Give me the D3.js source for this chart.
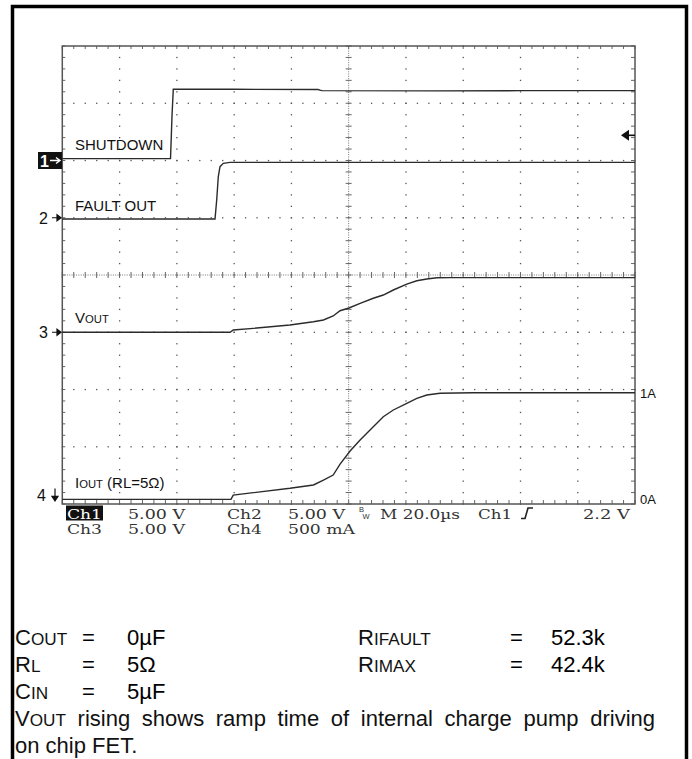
<!DOCTYPE html>
<html><head><meta charset="utf-8">
<script src="https://cdn.jsdelivr.net/npm/d3@7"></script>
<style>html,body{margin:0;padding:0;background:#fff}svg{display:block}</style>
</head><body><svg id="c" width="692" height="759"></svg>
<script>
// ---------------- DATA ----------------
// time axis: 20 µs / div, 10 divisions
const timeDomainUs = [0, 200];
const divRange = [-4, 4];
// channel settings (offset in divisions, units per division)
const channelNames = ["1", "2", "3", "4"];
const channelOffsetDiv = [2, 1, -1, -3.92];
const channelPerDiv = [5, 5, 5, 0.5];
// Ch1 SHUTDOWN (V)
const shutdownT = [0, 37.79, 38.31, 38.76, 60, 89.3, 90.0, 90.69, 130, 160, 200];
const shutdownV = [0.16, 0.16, 3.89, 6.22, 6.22, 6.2, 6.14, 6.1, 6.08, 6.1, 6.1];
// Ch2 FAULT OUT (V)
const faultT = [0, 53.33, 53.92, 54.48, 55.07, 56.22, 58.56, 200];
const faultV = [-0.11, -0.11, 1.55, 3.6, 4.46, 4.75, 4.84, 4.84];
// Ch3 VOUT (V)
const voutT = [0, 58.6, 59.7, 66.7, 79.5, 87.7, 91.2, 94.6, 97.0, 100.1, 104.0, 108.6, 112.1, 115.6, 120.3, 123.8, 127.3, 130.8, 135.4, 200];
const voutV = [0, 0, 0.2, 0.34, 0.63, 0.92, 1.07, 1.42, 1.88, 2.12, 2.53, 2.97, 3.25, 3.69, 4.21, 4.5, 4.65, 4.76, 4.77, 4.77];
// Ch4 IOUT (A)
const ioutT = [0, 58.9, 59.7, 66.7, 79.5, 87.7, 91.2, 94.6, 97.0, 100.5, 104.0, 108.6, 112.1, 115.6, 120.3, 123.8, 127.3, 131.9, 143.5, 200];
const ioutA = [0, 0, 0.038, 0.059, 0.097, 0.126, 0.169, 0.213, 0.309, 0.423, 0.519, 0.635, 0.722, 0.781, 0.839, 0.883, 0.912, 0.927, 0.932, 0.932];
// trace labels (text, small-caps flag)
const traceLabels = [
  [["SHUTDOWN", 0]],
  [["FAULT OUT", 0]],
  [["V", 0], ["OUT", 1]],
  [["I", 0], ["OUT", 1], [" (RL=5Ω)", 0]]
];
const triggerLevelV = 2.2;
const currentTickLabels = ["1A", "0A"];
const currentTickValues = [0.932, 0];
// scope readout
const readoutRow1 = ["Ch1", "5.00 V", "Ch2", "5.00 V", "M 20.0µs", "Ch1", "2.2 V"];
const readoutRow2 = ["Ch3", "5.00 V", "Ch4", "500 mA"];
// notes
const infoLeftNames = [[["C", 0], ["OUT", 1]], [["R", 0], ["L", 1]], [["C", 0], ["IN", 1]]];
const infoLeftValues = ["0µF", "5Ω", "5µF"];
const infoRightNames = [[["R", 0], ["IFAULT", 1]], [["R", 0], ["IMAX", 1]]];
const infoRightValues = ["52.3k", "42.4k"];
const noteLines = [
  [["V", 0], ["OUT", 1], [" rising shows ramp time of internal charge pump driving", 0]],
  [["on chip FET.", 0]]
];

// ---------------- DRAW ----------------
const svg = d3.select("#c");
const SANS = "'Liberation Sans', Arial, Helvetica, sans-serif";
const TEK = "'DejaVu Serif Condensed','DejaVu Serif',serif";
const L = 62.3, R = 635, T = 46, B = 504;
const x = d3.scaleLinear().domain(timeDomainUs).range([L, R]);
const yDiv = d3.scaleLinear().domain(divRange).range([B, T]);
const yCh = (ci, v) => yDiv(channelOffsetDiv[ci] + v / channelPerDiv[ci]);

// outer frame
svg.append("rect").attr("x", 12.5).attr("y", 6.5).attr("width", 674).attr("height", 800)
  .attr("fill", "none").attr("stroke", "#000").attr("stroke-width", 3.5);

const g = svg.append("g");
const dotCol = "#555";
const majorT = d3.range(20, 200, 20).filter(t => t !== 100);
const majorD = d3.range(-3, 4, 1).filter(d => d !== 0);
const minorDivs = d3.range(0, 41).map(k => -4 + k * 0.2);
const minorTs = d3.range(0, 51).map(k => k * 4);
majorT.forEach(t => {
  g.selectAll(null).data(minorDivs).enter().append("rect")
    .attr("x", x(t) - 0.6).attr("y", d => yDiv(d) - 0.6).attr("width", 1.3).attr("height", 1.3).attr("fill", dotCol);
});
majorD.forEach(dv => {
  g.selectAll(null).data(minorTs).enter().append("rect")
    .attr("x", t => x(t) - 0.6).attr("y", yDiv(dv) - 0.6).attr("width", 1.3).attr("height", 1.3).attr("fill", dotCol);
});
// center cross with fine dotted line and ticks
g.append("line").attr("x1", x(100)).attr("x2", x(100)).attr("y1", T).attr("y2", B)
  .attr("stroke", "#777").attr("stroke-width", 1).attr("stroke-dasharray", "1,1.3");
g.append("line").attr("x1", L).attr("x2", R).attr("y1", yDiv(0)).attr("y2", yDiv(0))
  .attr("stroke", "#777").attr("stroke-width", 1).attr("stroke-dasharray", "1,1.3");
g.selectAll(null).data(minorDivs).enter().append("line")
  .attr("x1", x(100) - 3).attr("x2", x(100) + 3).attr("y1", d => yDiv(d)).attr("y2", d => yDiv(d))
  .attr("stroke", "#666").attr("stroke-width", 1);
g.selectAll(null).data(minorTs).enter().append("line")
  .attr("y1", yDiv(0) - 3).attr("y2", yDiv(0) + 3).attr("x1", t => x(t)).attr("x2", t => x(t))
  .attr("stroke", "#666").attr("stroke-width", 1);
// edge ticks
g.selectAll(null).data(minorTs).enter().append("line")
  .attr("x1", t => x(t)).attr("x2", t => x(t)).attr("y1", T).attr("y2", T + 3).attr("stroke", "#666");
g.selectAll(null).data(minorTs).enter().append("line")
  .attr("x1", t => x(t)).attr("x2", t => x(t)).attr("y1", B).attr("y2", B - 4).attr("stroke", "#666");
g.selectAll(null).data(minorDivs).enter().append("line")
  .attr("y1", d => yDiv(d)).attr("y2", d => yDiv(d)).attr("x1", L).attr("x2", L + 3).attr("stroke", "#666");
g.selectAll(null).data(minorDivs).enter().append("line")
  .attr("y1", d => yDiv(d)).attr("y2", d => yDiv(d)).attr("x1", R).attr("x2", R - 4).attr("stroke", "#666");
// plot border
g.append("rect").attr("x", L).attr("y", T).attr("width", R - L).attr("height", B - T)
  .attr("fill", "none").attr("stroke", "#555").attr("stroke-width", 1.5);

// traces
const traces = [[shutdownT, shutdownV], [faultT, faultV], [voutT, voutV], [ioutT, ioutA]];
traces.forEach(([ts, vs], ci) => {
  const pts = ts.map((t, i) => [t, vs[i]]);
  g.append("path").datum(pts)
    .attr("d", d3.line().x(p => x(p[0])).y(p => yCh(ci, p[1])))
    .attr("fill", "none").attr("stroke", "#2b2b2b").attr("stroke-width", 1.4);
});

function rich(sel, parts, px, py, size, family, scale) {
  const t = sel.append("text").attr("x", px).attr("y", py).attr("font-family", family)
    .attr("font-size", size).attr("fill", "#111");
  parts.forEach(([s, small]) => t.append("tspan").attr("font-size", small ? size * scale : size).text(s));
  return t;
}
// trace labels
const labelDy = [-11, -7, -9, -11];
traceLabels.forEach((parts, ci) => rich(g, parts, 75, yCh(ci, 0) + labelDy[ci], 15, SANS, 0.75));

// channel ground markers
channelNames.forEach((name, ci) => {
  const yy = yCh(ci, 0);
  if (ci === 0) {
    g.append("rect").attr("x", 38).attr("y", yy - 8.5).attr("width", 24).attr("height", 17).attr("fill", "#111");
    g.append("text").attr("x", 40).attr("y", yy + 6).attr("font-family", SANS).attr("font-size", 16)
      .attr("font-weight", "bold").attr("fill", "#fff").text(name);
    g.append("path").attr("d", `M50,${yy}H59M56,${yy - 3}L60,${yy}L56,${yy + 3}`).attr("stroke", "#fff").attr("stroke-width", 1.4).attr("fill", "none");
  } else if (ci < 3) {
    g.append("text").attr("x", 39).attr("y", yy + 6).attr("font-family", SANS).attr("font-size", 16).attr("fill", "#111").text(name);
    g.append("path").attr("d", `M52,${yy}H60M57,${yy - 3}L61,${yy}L57,${yy + 3}Z`).attr("stroke", "#111").attr("stroke-width", 1.2).attr("fill", "#111");
  } else {
    g.append("text").attr("x", 37).attr("y", yy + 2).attr("font-family", SANS).attr("font-size", 16).attr("fill", "#111").text(name);
    g.append("path").attr("d", `M55,${yy - 11}V${yy + 1}M52,${yy - 3}L55,${yy + 1.5}L58,${yy - 3}Z`).attr("stroke", "#111").attr("stroke-width", 1.2).attr("fill", "#111");
  }
});
// trigger level arrow (right side)
const ty = yCh(0, triggerLevelV);
g.append("path").attr("d", `M621,${ty}L629,${ty - 5.5}L629,${ty + 5.5}Z`).attr("fill", "#111");
g.append("line").attr("x1", 628).attr("x2", R).attr("y1", ty).attr("y2", ty).attr("stroke", "#111").attr("stroke-width", 1.6);

// current labels
currentTickLabels.forEach((lab, i) => {
  g.append("text").attr("x", 640).attr("y", yCh(3, currentTickValues[i]) + 5)
    .attr("font-family", SANS).attr("font-size", 13).attr("fill", "#111").text(lab);
});

// scope readout
const row1X = [[67, 102], [128, 185], [227, 262], [288, 345], [380, 460], [478, 512], [583, 630]];
const row2X = [[67, 102], [128, 185], [227, 262], [288, 355]];
svg.append("rect").attr("x", 66).attr("y", 505.5).attr("width", 37).attr("height", 15).attr("fill", "#111");
const RF = 13.5;
readoutRow1.forEach((s, i) => {
  svg.append("text").attr("x", row1X[i][0]).attr("y", 518.5).attr("font-family", TEK).attr("font-size", RF)
    .attr("textLength", row1X[i][1] - row1X[i][0]).attr("lengthAdjust", "spacingAndGlyphs")
    .attr("fill", i === 0 ? "#fff" : "#333").text(s);
});
readoutRow2.forEach((s, i) => {
  svg.append("text").attr("x", row2X[i][0]).attr("y", 533.5).attr("font-family", TEK).attr("font-size", RF)
    .attr("textLength", row2X[i][1] - row2X[i][0]).attr("lengthAdjust", "spacingAndGlyphs")
    .attr("fill", "#333").text(s);
});
// BW symbol and trigger slope
const bw = svg.append("text").attr("x", 359).attr("y", 512).attr("font-family", SANS).attr("font-size", 7.5).attr("fill", "#333");
bw.append("tspan").text("B");
bw.append("tspan").attr("dx", -1.5).attr("dy", 6.5).text("W");
svg.append("path").attr("d", "M521,518.5H525L528,508H533").attr("fill", "none").attr("stroke", "#222").attr("stroke-width", 1.6);

// notes
const NS = 22;
const SC = 0.78;
const rowY = [645, 672, 699, 726, 753];
infoLeftNames.forEach((parts, i) => {
  rich(svg, parts, 15, rowY[i], NS, SANS, SC);
  svg.append("text").attr("x", 82).attr("y", rowY[i]).attr("font-family", SANS).attr("font-size", NS).text("=");
  svg.append("text").attr("x", 127).attr("y", rowY[i]).attr("font-family", SANS).attr("font-size", NS).text(infoLeftValues[i]);
});
infoRightNames.forEach((parts, i) => {
  rich(svg, parts, 358, rowY[i], NS, SANS, SC);
  svg.append("text").attr("x", 510).attr("y", rowY[i]).attr("font-family", SANS).attr("font-size", NS).text("=");
  svg.append("text").attr("x", 551).attr("y", rowY[i]).attr("font-family", SANS).attr("font-size", NS).text(infoRightValues[i]);
});
noteLines.forEach((parts, i) => {
  const t = rich(svg, parts, 15, rowY[3 + i], NS, SANS, SC);
  if (i === 0) {
    // justified paragraph line: spread words across the text column
    const len = t.node().getComputedTextLength();
    const nSpaces = parts.map(p => p[0]).join("").split(" ").length - 1;
    t.style("word-spacing", Math.max(0, (655 - 15 - len) / nSpaces) + "px");
  }
});
</script></body></html>
